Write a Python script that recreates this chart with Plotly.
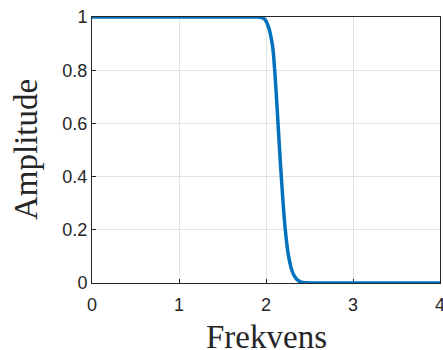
import plotly.graph_objects as go

# Data
freq = [0, 0.5, 1.0, 1.5, 1.8, 1.9, 1.95, 1.98, 2.0, 2.02, 2.04, 2.06, 2.08,
        2.10, 2.12, 2.14, 2.16, 2.18, 2.20, 2.22, 2.24, 2.26, 2.28, 2.30,
        2.32, 2.35, 2.38, 2.42, 2.46, 2.5, 3.0, 3.5, 4.0]
amplitude = [1, 1, 1, 1, 1, 1, 0.998, 0.993, 0.985, 0.97, 0.95, 0.92, 0.88,
             0.80, 0.70, 0.59, 0.48, 0.38, 0.285, 0.205, 0.145, 0.10, 0.068, 0.045,
             0.03, 0.015, 0.007, 0.002, 0.0005, 0, 0, 0, 0]

x_ticks = [0, 1, 2, 3, 4]
y_ticks = [0, 0.2, 0.4, 0.6, 0.8, 1]
y_tick_labels = ["0", "0.2", "0.4", "0.6", "0.8", "1"]

fig = go.Figure()
fig.add_trace(go.Scatter(x=freq, y=amplitude, mode="lines",
                         line=dict(color="#0072BD", width=3.5, shape="spline", smoothing=0.6),
                         hoverinfo="skip", showlegend=False))

axis_common = dict(
    showline=True, linecolor="#262626", linewidth=1, mirror=True,
    showgrid=True, gridcolor="#e2e2e2", gridwidth=1,
    zeroline=False, ticks="inside", ticklen=4, tickcolor="#262626",
    tickfont=dict(family="Liberation Sans", size=18, color="#262626"),
    layer="below traces", automargin=False, ticklabeloverflow="allow",
)

fig.update_layout(
    width=443, height=350,
    margin=dict(l=92, r=3, t=17, b=67),
    paper_bgcolor="white", plot_bgcolor="white",
    template="none",
    xaxis=dict(range=[0, 4], tickvals=x_ticks, ticktext=[str(v) for v in x_ticks],
               ticklabelstandoff=5, **axis_common),
    yaxis=dict(range=[0, 1], tickvals=y_ticks, ticktext=y_tick_labels, **axis_common),
    annotations=[
        dict(text="Frekvens", xref="paper", yref="paper", x=0.5, y=0, yshift=-54,
             xanchor="center", yanchor="middle", showarrow=False,
             font=dict(family="Liberation Serif", size=33, color="#262626")),
        dict(text="Amplitude", xref="paper", yref="paper", x=0, y=0.5, xshift=-66,
             xanchor="center", yanchor="middle", textangle=-90, showarrow=False,
             font=dict(family="Liberation Serif", size=33, color="#262626")),
    ],
)

fig.write_html("out.html", config={"displayModeBar": False},
               post_script="document.body.style.margin='0';document.body.style.overflow='hidden';")
